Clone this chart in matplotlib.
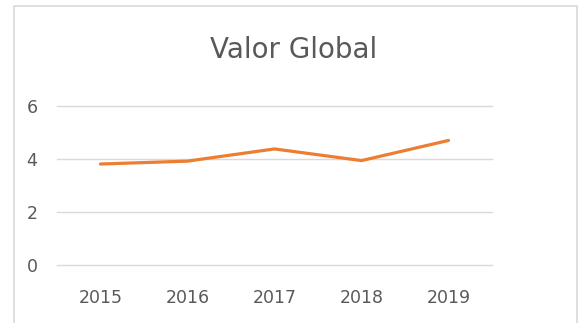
import matplotlib.pyplot as plt
from matplotlib.patches import Rectangle

years = ["2015", "2016", "2017", "2018", "2019"]
valor_global = [3.81, 3.92, 4.38, 3.94, 4.70]
y_ticks = [0, 2, 4, 6]

text_color = "#595959"
grid_color = "#d9d9d9"
line_color = "#ed7d31"

fig = plt.figure(figsize=(5.8, 3.23), dpi=100)
fig.patch.set_facecolor("white")

# borde del gráfico
fig.patches.append(Rectangle((14 / 580, -0.05), 563 / 580, 1 - 6 / 323 + 0.05,
                             transform=fig.transFigure, fill=False,
                             edgecolor="#d9d9d9", linewidth=1.2))

ax = fig.add_axes([57 / 580, 1 - 265 / 323, 435 / 580, 159 / 323])
x = range(len(years))
ax.plot(x, valor_global, color=line_color, linewidth=2.3, solid_capstyle="round")

ax.set_xlim(-0.5, len(years) - 0.5)
ax.set_ylim(0, 6)
ax.set_yticks(y_ticks)
ax.set_xticks(list(x))
ax.set_xticklabels(years)
ax.grid(axis="y", color=grid_color, linewidth=1)
for gl in ax.get_ygridlines():
    gl.set_clip_on(False)
ax.set_axisbelow(True)
for s in ax.spines.values():
    s.set_visible(False)
ax.tick_params(length=0, labelsize=12.5, colors=text_color)
ax.tick_params(axis="y", pad=14)
ax.tick_params(axis="x", pad=17)

fig.text(294 / 580, 1 - 50 / 323, "Valor Global", ha="center", va="center",
         fontsize=20, color=text_color)

fig.savefig("out.png", dpi=100)
